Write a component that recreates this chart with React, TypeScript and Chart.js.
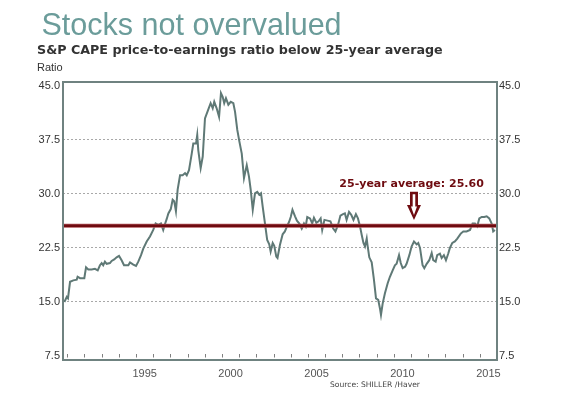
import React, { useEffect, useRef } from "react";
import { Chart, registerables } from "chart.js";

Chart.register(...registerables);

// ---- Data ----
const years: number[] = [
  1990.83, 1990.97, 1991.04, 1991.16, 1991.35, 1991.55, 1991.6, 1991.74, 1991.99, 1992.09,
  1992.22, 1992.42, 1992.61, 1992.77, 1992.9, 1993.0, 1993.09, 1993.19, 1993.29, 1993.48,
  1993.58, 1993.73, 1993.87, 1994.01, 1994.16, 1994.3, 1994.46, 1994.55, 1994.65, 1994.84,
  1995.0, 1995.13, 1995.29, 1995.42, 1995.62, 1995.81, 1996.0, 1996.14, 1996.29, 1996.45,
  1996.58, 1996.68, 1996.78, 1996.88, 1997.02, 1997.13, 1997.22, 1997.32, 1997.42, 1997.56,
  1997.71, 1997.85, 1997.95, 1998.08, 1998.24, 1998.33, 1998.49, 1998.56, 1998.62, 1998.76,
  1998.88, 1999.01, 1999.2, 1999.34, 1999.46, 1999.55, 1999.69, 1999.83, 1999.94, 2000.04,
  2000.13, 2000.23, 2000.37, 2000.51, 2000.66, 2000.76, 2000.89, 2001.01, 2001.15, 2001.28,
  2001.44, 2001.57, 2001.67, 2001.79, 2001.92, 2002.05, 2002.17, 2002.27, 2002.37, 2002.5,
  2002.63, 2002.75, 2002.83, 2002.95, 2003.04, 2003.16, 2003.23, 2003.37, 2003.53, 2003.66,
  2003.78, 2003.9, 2004.0, 2004.1, 2004.25, 2004.36, 2004.5, 2004.64, 2004.77, 2004.87,
  2004.96, 2005.12, 2005.25, 2005.35, 2005.49, 2005.62, 2005.74, 2005.83, 2005.96, 2006.14,
  2006.31, 2006.47, 2006.6, 2006.75, 2006.89, 2007.04, 2007.15, 2007.25, 2007.39, 2007.52,
  2007.65, 2007.79, 2007.91, 2008.03, 2008.13, 2008.23, 2008.32, 2008.42, 2008.46, 2008.57,
  2008.71, 2008.84, 2008.96, 2009.09, 2009.19, 2009.25, 2009.35, 2009.48, 2009.64, 2009.77,
  2009.93, 2010.06, 2010.16, 2010.3, 2010.4, 2010.51, 2010.65, 2010.74, 2010.9, 2011.03,
  2011.17, 2011.33, 2011.42, 2011.52, 2011.67, 2011.77, 2011.91, 2012.06, 2012.2, 2012.29,
  2012.43, 2012.52, 2012.68, 2012.78, 2012.91, 2013.03, 2013.16, 2013.26, 2013.4, 2013.55,
  2013.69, 2013.89, 2014.04, 2014.23, 2014.43, 2014.58, 2014.72, 2014.85, 2014.97, 2015.11,
  2015.26, 2015.4, 2015.55, 2015.69, 2015.78, 2015.88,
];

const cape: number[] = [
  15.0, 15.7, 15.5, 17.8, 18.0, 18.1, 18.5, 18.3, 18.3, 19.8,
  19.5, 19.5, 19.6, 19.4, 20.1, 20.4, 20.1, 20.6, 20.3, 20.4,
  20.7, 20.9, 21.2, 21.4, 20.8, 20.1, 20.1, 20.1, 20.5, 20.2,
  20.0, 20.6, 21.5, 22.4, 23.4, 24.1, 25.0, 25.9, 25.7, 25.9,
  25.0, 25.8, 26.5, 27.3, 27.9, 29.2, 29.0, 27.6, 30.6, 32.6,
  32.6, 32.9, 32.6, 33.3, 35.6, 37.0, 37.0, 38.2, 36.1, 33.6,
  35.2, 40.5, 41.7, 42.6, 41.9, 42.8, 41.9, 40.7, 44.0, 43.5,
  42.6, 43.3, 42.4, 42.8, 42.6, 41.4, 38.9, 37.3, 35.6, 32.2,
  34.0, 32.4, 30.6, 27.8, 30.1, 30.3, 29.9, 30.1, 28.2, 25.9,
  23.6, 23.0, 22.0, 23.2, 22.8, 21.3, 21.1, 22.9, 24.4, 24.8,
  25.5, 26.1, 26.8, 27.8, 26.9, 26.3, 25.9, 25.2, 25.9, 25.5,
  26.8, 26.6, 25.9, 26.7, 26.0, 26.2, 26.6, 25.0, 26.4, 26.3,
  26.2, 25.2, 24.8, 25.7, 27.0, 27.2, 27.3, 26.4, 27.5, 27.1,
  26.4, 27.2, 26.6, 25.5, 24.3, 23.2, 22.7, 23.8, 23.0, 21.2,
  20.5, 18.1, 15.5, 15.3, 14.1, 13.2, 14.8, 16.2, 17.6, 18.5,
  19.4, 20.1, 20.3, 21.5, 20.4, 19.7, 19.9, 20.3, 21.5, 22.7,
  23.4, 23.0, 23.2, 22.5, 20.1, 19.7, 20.3, 20.8, 21.8, 20.8,
  20.6, 21.5, 21.7, 21.1, 21.5, 20.8, 21.7, 22.5, 23.2, 23.4,
  23.8, 24.5, 24.8, 24.8, 25.0, 25.9, 25.9, 25.5, 26.6, 26.8,
  26.8, 26.9, 26.6, 25.9, 24.8, 25.0,
];

const AVERAGE = 25.6;
const yTicks: number[] = [7.5, 15, 22.5, 30, 37.5, 45];
const yearLabels: number[] = [1995, 2000, 2005, 2010, 2015];
const minorYears: number[] = [
  1991, 1992, 1993, 1994, 1995, 1996, 1997, 1998, 1999, 2000, 2001, 2002, 2003,
  2004, 2005, 2006, 2007, 2008, 2009, 2010, 2011, 2012, 2013, 2014, 2015,
];

const X_MIN = 1990.75;
const X_MAX = 2016;
const Y_MIN = 6.94;
const Y_MAX = 45.55;

// annotation anchors (in data units)
const ANNOT_TEXT = "25-year average: 25.60";
const ANNOT_X = 2011.03;
const ANNOT_Y = 30.95;
const ARROW_X = 2011.17;
const ARROW_TOP = 30.3;
const ARROW_HEAD = 28.45;
const ARROW_TIP = 26.4;

const TITLE = "Stocks not overvalued";
const SUBTITLE = "S&P CAPE price-to-earnings ratio below 25-year average";
const UNIT = "Ratio";
const SOURCE = "Source: SHILLER /Haver";

const RED = "#6e0b10";

const decorPlugin = {
  id: "decor",
  afterDatasetsDraw(chart: any) {
    const { ctx, chartArea } = chart;
    const xs = chart.scales.x;
    const ys = chart.scales.y;
    ctx.save();

    // minor year ticks inside bottom
    ctx.strokeStyle = "#808080";
    ctx.lineWidth = 1;
    ctx.beginPath();
    for (const yr of minorYears) {
      const px = Math.round(xs.getPixelForValue(yr)) + 0.5;
      ctx.moveTo(px, chartArea.bottom - 6);
      ctx.lineTo(px, chartArea.bottom - 2.5);
    }
    ctx.stroke();

    // frame
    ctx.strokeStyle = "#6f8280";
    ctx.lineWidth = 2;
    ctx.strokeRect(
      chartArea.left,
      chartArea.top,
      chartArea.right - chartArea.left,
      chartArea.bottom - chartArea.top
    );

    // annotation text
    ctx.fillStyle = RED;
    ctx.font = "bold 11px 'DejaVu Sans', Verdana, sans-serif";
    ctx.textAlign = "center";
    ctx.textBaseline = "alphabetic";
    ctx.fillText(ANNOT_TEXT, xs.getPixelForValue(ANNOT_X), ys.getPixelForValue(ANNOT_Y));

    // arrow
    const cx = xs.getPixelForValue(ARROW_X);
    const top = ys.getPixelForValue(ARROW_TOP);
    const head = ys.getPixelForValue(ARROW_HEAD);
    const tip = ys.getPixelForValue(ARROW_TIP);
    ctx.fillStyle = RED;
    ctx.beginPath();
    ctx.moveTo(cx - 4, top);
    ctx.lineTo(cx + 4, top);
    ctx.lineTo(cx + 4, head);
    ctx.lineTo(cx + 7, head);
    ctx.lineTo(cx, tip);
    ctx.lineTo(cx - 7, head);
    ctx.lineTo(cx - 4, head);
    ctx.closePath();
    ctx.fill();
    ctx.fillStyle = "#ffffff";
    ctx.beginPath();
    ctx.moveTo(cx - 1.3, top + 2.5);
    ctx.lineTo(cx + 1.3, top + 2.5);
    ctx.lineTo(cx + 1.3, head + 1.5);
    ctx.lineTo(cx + 3, head + 1.5);
    ctx.lineTo(cx, tip - 5);
    ctx.lineTo(cx - 3, head + 1.5);
    ctx.lineTo(cx - 1.3, head + 1.5);
    ctx.closePath();
    ctx.fill();

    ctx.restore();
  },
  afterDraw(chart: any) {
    const { ctx } = chart;
    ctx.save();
    ctx.textAlign = "left";
    ctx.textBaseline = "alphabetic";
    ctx.fillStyle = "#6b9c9a";
    ctx.font = "30.5px 'Liberation Sans', Arial, sans-serif";
    ctx.fillText(TITLE, 41.5, 35);
    ctx.fillStyle = "#333333";
    ctx.font = "bold 12.7px 'DejaVu Sans', Verdana, sans-serif";
    ctx.fillText(SUBTITLE, 37, 54);
    ctx.font = "11px 'Liberation Sans', Arial, sans-serif";
    ctx.fillText(UNIT, 37, 70.5);
    ctx.fillStyle = "#444444";
    ctx.font = "7.6px 'DejaVu Sans', Verdana, sans-serif";
    ctx.fillText(SOURCE, 330, 387);
    ctx.restore();
  },
};

export default function App() {
  const canvasRef = useRef<HTMLCanvasElement | null>(null);

  useEffect(() => {
    if (!canvasRef.current) return;
    const capePoints = years.map((yr, i) => ({ x: yr, y: cape[i] }));
    const avgPoints = [
      { x: X_MIN, y: AVERAGE },
      { x: X_MAX, y: AVERAGE },
    ];
    const tickFont = { family: "'Liberation Sans', Arial, sans-serif", size: 11 };
    const gridColor = (c: any) =>
      c.tick && c.tick.value > 7.5 && c.tick.value < 45 ? "#a8a8a8" : "rgba(0,0,0,0)";

    const chart = new Chart(canvasRef.current, {
      type: "line",
      data: {
        datasets: [
          {
            data: capePoints,
            borderColor: "#5f7976",
            borderWidth: 2,
            pointRadius: 0,
            tension: 0,
            order: 3,
          },
          {
            data: avgPoints,
            borderColor: "#b0555a",
            borderWidth: 4,
            pointRadius: 0,
            order: 2,
          },
          {
            data: avgPoints,
            borderColor: RED,
            borderWidth: 2.5,
            pointRadius: 0,
            order: 1,
          },
        ],
      },
      options: {
        animation: false,
        responsive: false,
        parsing: true,
        layout: { padding: { top: 82, left: 0, right: 0, bottom: 0 } },
        plugins: {
          legend: { display: false },
          tooltip: { enabled: false },
          title: { display: false },
        },
        scales: {
          x: {
            type: "linear",
            min: X_MIN,
            max: X_MAX,
            grid: { display: false, drawTicks: false },
            border: { display: false },
            afterBuildTicks: (scale: any) => {
              scale.ticks = yearLabels.map((v) => ({ value: v + 0.5 }));
            },
            afterFit: (scale: any) => {
              scale.height = 38;
            },
            ticks: {
              autoSkip: false,
              maxRotation: 0,
              padding: 7,
              color: "#555555",
              font: tickFont,
              callback: (v: any) => String(Math.floor(Number(v))),
            },
          },
          y: {
            type: "linear",
            position: "left",
            min: Y_MIN,
            max: Y_MAX,
            grid: { color: gridColor, drawTicks: false, lineWidth: 1 },
            border: { display: false, dash: [2, 2] },
            afterBuildTicks: (scale: any) => {
              scale.ticks = yTicks.map((v) => ({ value: v }));
            },
            afterFit: (scale: any) => {
              scale.width = 63;
            },
            ticks: {
              padding: 3,
              color: "#333333",
              font: tickFont,
              callback: (v: any) => Number(v).toFixed(1),
            },
          },
          y2: {
            type: "linear",
            position: "right",
            min: Y_MIN,
            max: Y_MAX,
            grid: { display: false, drawTicks: false },
            border: { display: false },
            afterBuildTicks: (scale: any) => {
              scale.ticks = yTicks.map((v) => ({ value: v }));
            },
            afterFit: (scale: any) => {
              scale.width = 72;
            },
            ticks: {
              padding: 2,
              color: "#333333",
              font: tickFont,
              callback: (v: any) => Number(v).toFixed(1),
            },
          },
        },
      } as any,
      plugins: [decorPlugin],
    });
    return () => chart.destroy();
  }, []);

  return (
    <div style={{ position: "absolute", left: 0, top: 0, width: 569, height: 398, background: "#fff" }}>
      <canvas ref={canvasRef} width={569} height={398} style={{ display: "block" }} />
    </div>
  );
}
